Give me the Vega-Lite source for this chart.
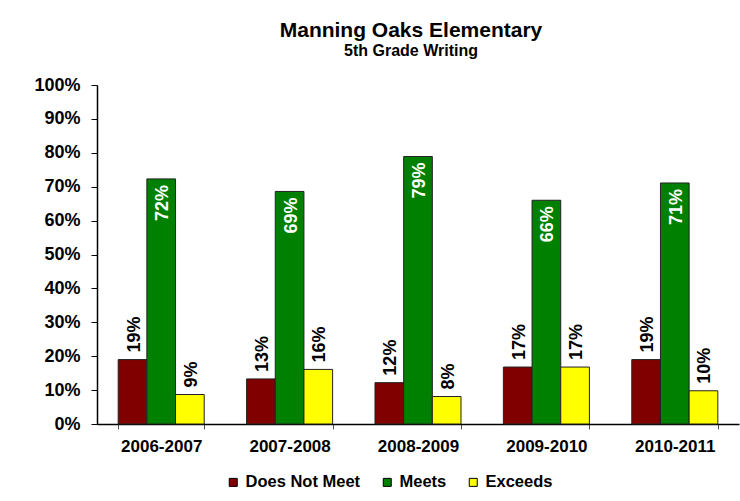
{
  "$schema": "https://vega.github.io/schema/vega-lite/v6.json",
  "width": 642,
  "height": 339,
  "autosize": {"type": "none"},
  "padding": {"left": 97, "top": 85, "right": 1, "bottom": 77},
  "background": "white",
  "title": {
    "text": "Manning Oaks Elementary",
    "subtitle": "5th Grade Writing",
    "anchor": "middle",
    "frame": "group",
    "dx": -7,
    "offset": 17,
    "font": "Liberation Sans",
    "fontSize": 21,
    "fontWeight": "bold",
    "color": "black",
    "subtitleFont": "Liberation Sans",
    "subtitleFontSize": 16,
    "subtitleFontWeight": "bold",
    "subtitleColor": "black",
    "subtitlePadding": 2
  },
  "config": {
    "view": {"stroke": null},
    "font": "Liberation Sans"
  },
  "data": {
    "values": [
      {"year": "2006-2007", "level": "Does Not Meet", "value": 0.19},
      {"year": "2006-2007", "level": "Meets", "value": 0.723},
      {"year": "2006-2007", "level": "Exceeds", "value": 0.087},
      {"year": "2007-2008", "level": "Does Not Meet", "value": 0.133},
      {"year": "2007-2008", "level": "Meets", "value": 0.686},
      {"year": "2007-2008", "level": "Exceeds", "value": 0.161},
      {"year": "2008-2009", "level": "Does Not Meet", "value": 0.122},
      {"year": "2008-2009", "level": "Meets", "value": 0.789},
      {"year": "2008-2009", "level": "Exceeds", "value": 0.081},
      {"year": "2009-2010", "level": "Does Not Meet", "value": 0.168},
      {"year": "2009-2010", "level": "Meets", "value": 0.66},
      {"year": "2009-2010", "level": "Exceeds", "value": 0.168},
      {"year": "2010-2011", "level": "Does Not Meet", "value": 0.19},
      {"year": "2010-2011", "level": "Meets", "value": 0.711},
      {"year": "2010-2011", "level": "Exceeds", "value": 0.098}
    ]
  },
  "encoding": {
    "x": {
      "field": "year",
      "type": "nominal",
      "sort": null,
      "scale": {"paddingInner": 0.33, "paddingOuter": 0.165},
      "axis": {
        "title": null,
        "labelAngle": 0,
        "labelFont": "Liberation Sans",
        "labelFontSize": 17,
        "labelFontWeight": "bold",
        "labelColor": "black",
        "labelPadding": 9,
        "tickBand": "extent",
        "tickSize": 5,
        "tickColor": "#555555",
        "domainColor": "black",
        "domainWidth": 1.5,
        "grid": false
      }
    },
    "xOffset": {
      "field": "level",
      "type": "nominal",
      "sort": ["Does Not Meet", "Meets", "Exceeds"],
      "scale": {"paddingInner": 0, "paddingOuter": 0}
    },
    "y": {
      "field": "value",
      "type": "quantitative",
      "scale": {"domain": [0, 1], "nice": false},
      "axis": {
        "title": null,
        "format": ".0%",
        "values": [0, 0.1, 0.2, 0.3, 0.4, 0.5, 0.6, 0.7, 0.8, 0.9, 1],
        "labelFont": "Liberation Sans",
        "labelFontSize": 18,
        "labelFontWeight": "bold",
        "labelColor": "black",
        "labelPadding": 11,
        "tickSize": 6,
        "tickColor": "black",
        "domainColor": "black",
        "domainWidth": 1.5,
        "grid": false
      }
    }
  },
  "layer": [
    {
      "mark": {"type": "bar", "stroke": "#222222", "strokeWidth": 1},
      "encoding": {
        "color": {
          "field": "level",
          "type": "nominal",
          "sort": ["Does Not Meet", "Meets", "Exceeds"],
          "scale": {
            "domain": ["Does Not Meet", "Meets", "Exceeds"],
            "range": ["#800000", "#008000", "#ffff00"]
          },
          "legend": {
            "title": null,
            "orient": "none",
            "direction": "horizontal",
            "legendX": 128,
            "legendY": 389,
            "symbolType": "square",
            "symbolSize": 64,
            "symbolStrokeColor": "black",
            "symbolStrokeWidth": 1,
            "labelFont": "Liberation Sans",
            "labelFontSize": 16.5,
            "labelFontWeight": "bold",
            "labelColor": "black",
            "labelOffset": 4,
            "columnPadding": 18,
            "padding": 0
          }
        }
      }
    },
    {
      "transform": [{"filter": "datum.level !== 'Meets'"}],
      "mark": {
        "type": "text",
        "angle": 270,
        "align": "left",
        "baseline": "middle",
        "dx": 7,
        "dy": 2,
        "font": "Liberation Sans",
        "fontSize": 18,
        "fontWeight": "bold",
        "color": "black"
      },
      "encoding": {
        "text": {"field": "value", "type": "quantitative", "format": ".0%"}
      }
    },
    {
      "transform": [{"filter": "datum.level === 'Meets'"}],
      "mark": {
        "type": "text",
        "angle": 270,
        "align": "right",
        "baseline": "middle",
        "dx": -6,
        "dy": 2,
        "font": "Liberation Sans",
        "fontSize": 18,
        "fontWeight": "bold",
        "color": "white"
      },
      "encoding": {
        "text": {"field": "value", "type": "quantitative", "format": ".0%"}
      }
    }
  ]
}
